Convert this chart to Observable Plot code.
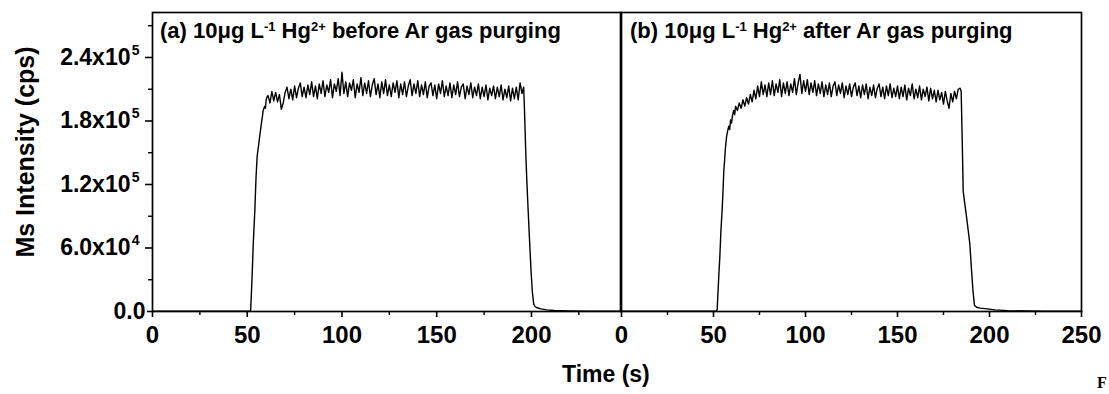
<!DOCTYPE html>
<html><head><meta charset="utf-8">
<script src="https://cdn.jsdelivr.net/npm/d3@7"></script>
<script src="https://cdn.jsdelivr.net/npm/@observablehq/plot@0.6"></script>
<style>
body{margin:0;background:#fff;}
#wrap{position:relative;width:1109px;height:394px;overflow:hidden;font-family:"Liberation Sans",Arial,sans-serif;font-weight:bold;color:#000;background:#fff;}
#wrap svg{position:absolute;top:0;}
.lab{position:absolute;font-size:22px;line-height:22px;white-space:nowrap;}
.lab sup{font-size:13px;line-height:0;vertical-align:7px;}
</style></head><body><div id="wrap"></div>
<script>
// ---- axis ticks ----
const yTicks = [0, 60000, 120000, 180000, 240000];
const yMinor = [30000, 90000, 150000, 210000, 270000];
const xTicksA = [0, 50, 100, 150, 200];
const xMinorA = [25, 75, 125, 175, 225];
const xTicksB = [0, 50, 100, 150, 200, 250];
const xMinorB = [25, 75, 125, 175, 225];
const labelA = "(a) 10μg L<sup>-1</sup> Hg<sup>2+</sup> before Ar gas purging";
const labelB = "(b) 10μg L<sup>-1</sup> Hg<sup>2+</sup> after Ar gas purging";
const yTitle = "Ms Intensity (cps)";
const xTitle = "Time (s)";

// ---- panel (a) data, intensity in 10^3 cps ----
const riseTimeA = [0, 10, 20, 30, 40, 50, 51.5, 51.8, 52.5, 53.2, 54, 54.6, 55.2, 55.6, 56, 56.6, 57, 57.5, 58, 58.4, 59.2, 59.6, 60, 60.5];
const riseCpsA  = [0.3, 0.3, 0.2, 0.3, 0.3, 0.3, 0.4, 1, 30, 65, 95, 125, 146, 152, 157, 166, 171, 178, 184, 190, 194, 192, 200, 203];
const plateauStartA = 61;
const plateauCpsA = [
 204, 197, 208, 199, 207, 198, 205, 191, 197, 207,
 212, 201, 210, 200, 213, 202, 211, 216, 203, 212,
 202, 214, 205, 217, 203, 213, 201, 215, 206, 218,
 203, 214, 207, 219, 202, 215, 208, 220, 204, 226,
 206, 217, 203, 216, 209, 219, 202, 215, 207, 221,
 204, 216, 206, 218, 203, 214, 220, 205, 215, 202,
 217, 206, 219, 204, 214, 203, 216, 207, 218, 202,
 215, 205, 217, 203, 213, 219, 204, 215, 206, 218,
 203, 214, 205, 217, 202, 213, 216, 204, 214, 201,
 215, 206, 218, 203, 213, 204, 216, 202, 214, 205,
 217, 203, 212, 215, 201, 213, 205, 216, 202, 212,
 204, 215, 201, 212, 203, 214, 200, 211, 204, 213,
 201, 212, 203, 214, 200, 210, 202, 213, 199, 211,
 201, 212, 200, 216, 206];
const dropTimeA = [195.9, 196.3, 197, 197.6, 198.2, 199, 199.8, 200.5, 201.2, 202, 203, 205, 208, 212, 220, 230, 240, 247];
const dropCpsA  = [212, 192, 150, 122, 98, 67, 38, 18, 7, 4.5, 3.5, 2.5, 1.5, 1, 0.6, 0.4, 0.3, 0.3];

// ---- panel (b) data, intensity in 10^3 cps ----
const riseTimeB = [0, 10, 20, 30, 40, 50, 51.5, 52, 52.5, 53, 53.4, 54, 54.7, 55.2, 55.6, 56, 56.5, 57.1, 57.6, 58.3, 58.8, 59.3, 59.8, 60.4, 61, 61.5, 62];
const riseCpsB  = [0.3, 0.3, 0.3, 0.3, 0.3, 0.3, 0.4, 2, 20, 38, 50, 75, 96, 115, 133, 142, 155, 165, 170, 175, 172, 181, 178, 186, 190, 186, 194];
const plateauStartB = 63;
const plateauCpsB = [
 190, 197, 192, 200, 194, 202, 196, 205,
 198, 209, 201, 213, 203, 217, 205, 214, 203, 216,
 205, 218, 204, 215, 207, 219, 203, 216, 206, 217,
 204, 215, 207, 220, 205, 216, 224, 206, 218, 208,
 219, 205, 216, 207, 218, 204, 215, 206, 217, 203,
 214, 205, 216, 203, 213, 217, 204, 214, 206, 216,
 202, 213, 205, 215, 203, 212, 216, 204, 213, 202,
 214, 205, 215, 201, 212, 204, 214, 202, 211, 215,
 203, 212, 201, 213, 204, 215, 202, 211, 203, 213,
 201, 212, 203, 214, 200, 211, 204, 215, 201, 210,
 202, 213, 200, 210, 203, 212, 199, 211, 201, 209,
 198, 209, 200, 207, 196, 208, 199, 192, 206, 198,
 208, 201, 210, 211];
const dropTimeB = [184.6, 185.2, 185.7, 186.4, 187.1, 188.2, 189.3, 190.2, 191, 191.8, 193, 195, 198.7, 203, 210, 220, 230, 240, 250];
const dropCpsB  = [208, 160, 114, 104, 95, 80, 64, 40, 20, 6, 4, 3.2, 2.5, 1.5, 0.8, 0.5, 0.3, 0.3, 0.3];

function buildSeries(rt, rc, ps, pc, dt, dc) {
  const out = [];
  rt.forEach((t, i) => out.push({t, cps: rc[i] * 1000}));
  pc.forEach((v, i) => out.push({t: ps + i, cps: v * 1000}));
  dt.forEach((t, i) => out.push({t, cps: dc[i] * 1000}));
  return out;
}
const seriesA = buildSeries(riseTimeA, riseCpsA, plateauStartA, plateauCpsA, dropTimeA, dropCpsA);
const seriesB = buildSeries(riseTimeB, riseCpsB, plateauStartB, plateauCpsB, dropTimeB, dropCpsB);

const expOf = d => Math.floor(Math.log10(d));
const mant = d => d === 0 ? "0.0" : (d / 10 ** expOf(d)).toFixed(1) + "x10";
const yDomain = [0, 282500];
const font = {fontFamily: "'Liberation Sans', Arial, sans-serif", fontWeight: "bold", background: "transparent", color: "black", overflow: "visible"};

const plotA = Plot.plot({
  width: 621, height: 394,
  marginLeft: 152, marginRight: 1, marginTop: 12, marginBottom: 83,
  style: font,
  x: {domain: [0, 247], label: null},
  y: {domain: yDomain, label: null},
  marks: [
    Plot.axisY({ticks: yTicks.filter(d => d > 0), tickSize: 7, tickPadding: 15, tickFormat: mant, fontSize: 23, fontWeight: "bold", strokeWidth: 1.6, label: null}),
    Plot.axisY({ticks: [0], tickSize: 5, tickPadding: 2, tickFormat: mant, fontSize: 23, fontWeight: "bold", strokeWidth: 1.6, label: null}),
    Plot.axisY({ticks: yMinor, tickSize: 4, tickFormat: () => "", strokeWidth: 1.4, label: null}),
    Plot.text(yTicks.filter(d => d > 0), {y: d => d, text: d => String(expOf(d)), frameAnchor: "left", textAnchor: "end", dx: -13, dy: -7, fontSize: 14, fontWeight: "bold"}),
    Plot.text([yTitle], {text: d => d, frameAnchor: "left", textAnchor: "middle", lineAnchor: "middle", rotate: -90, dx: -127, dy: -10, fontSize: 25, fontWeight: "bold"}),
    Plot.axisX({ticks: xTicksA, tickSize: 6, tickPadding: 8, fontSize: 24, fontWeight: "bold", strokeWidth: 1.6, label: null}),
    Plot.axisX({ticks: xMinorA, tickSize: 4, tickFormat: () => "", strokeWidth: 1.4, label: null}),
    Plot.line(seriesA, {x: "t", y: "cps", stroke: "black", strokeWidth: 1.4}),
    Plot.frame({stroke: "black", strokeWidth: 1.7})
  ]
});

const plotB = Plot.plot({
  width: 509, height: 394,
  marginLeft: 21, marginRight: 28, marginTop: 12, marginBottom: 83,
  style: font,
  x: {domain: [0, 250], label: null},
  y: {domain: yDomain, label: null, axis: null},
  marks: [
    Plot.axisX({ticks: xTicksB, tickSize: 6, tickPadding: 8, fontSize: 24, fontWeight: "bold", strokeWidth: 1.6, label: null}),
    Plot.axisX({ticks: xMinorB, tickSize: 4, tickFormat: () => "", strokeWidth: 1.4, label: null}),
    Plot.line(seriesB, {x: "t", y: "cps", stroke: "black", strokeWidth: 1.4}),
    Plot.frame({stroke: "black", strokeWidth: 1.7})
  ]
});

const wrap = document.getElementById("wrap");
plotA.style.left = "0px";
plotB.style.left = "600px";
wrap.appendChild(plotA);
wrap.appendChild(plotB);

function addLabel(html, left, top, extra) {
  const d = document.createElement("div");
  d.className = "lab";
  d.innerHTML = html;
  d.style.left = left + "px";
  d.style.top = top + "px";
  if (extra) Object.assign(d.style, extra);
  wrap.appendChild(d);
}
addLabel(labelA, 160, 20);
addLabel(labelB, 630, 20);
addLabel(xTitle, 562, 363, {fontSize: "23px", lineHeight: "23px"});
addLabel("F", 1097, 375, {fontFamily: "'Liberation Serif', serif", fontSize: "16px", lineHeight: "16px"});
</script></body></html>
